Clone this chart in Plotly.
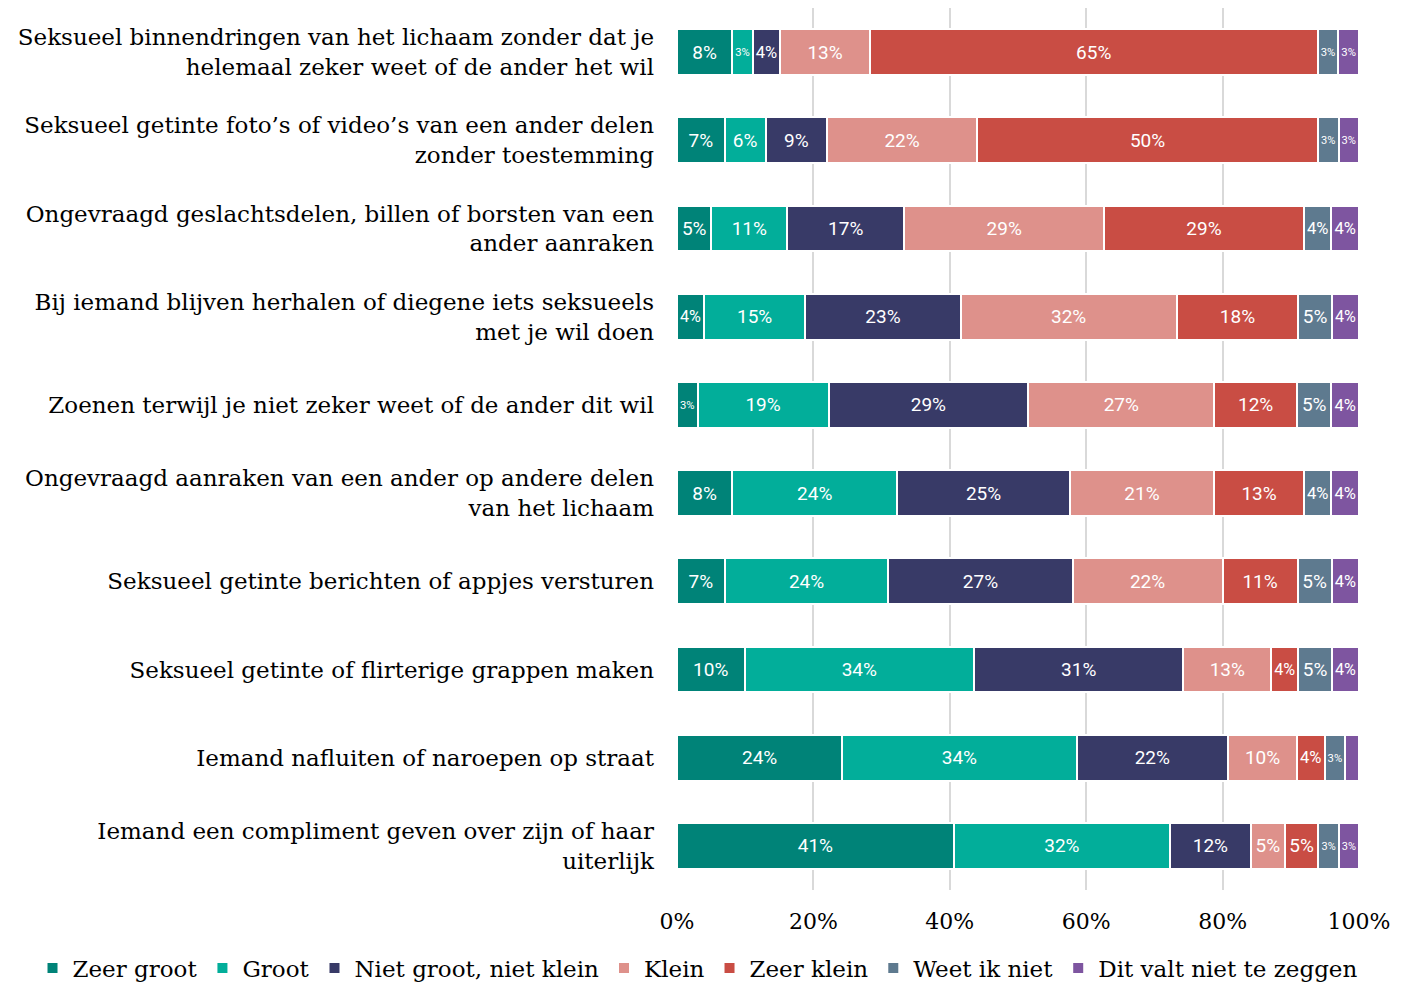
import plotly.graph_objects as go

statements = [
    "Seksueel binnendringen van het lichaam zonder dat je<br>helemaal zeker weet of de ander het wil",
    "Seksueel getinte foto’s of video’s van een ander delen<br>zonder toestemming",
    "Ongevraagd geslachtsdelen, billen of borsten van een<br>ander aanraken",
    "Bij iemand blijven herhalen of diegene iets seksueels<br>met je wil doen",
    "Zoenen terwijl je niet zeker weet of de ander dit wil",
    "Ongevraagd aanraken van een ander op andere delen<br>van het lichaam",
    "Seksueel getinte berichten of appjes versturen",
    "Seksueel getinte of flirterige grappen maken",
    "Iemand nafluiten of naroepen op straat",
    "Iemand een compliment geven over zijn of haar<br>uiterlijk",
]

zeer_groot = [8, 7, 5, 4, 3, 8, 7, 10, 24, 41]
groot = [3, 6, 11, 15, 19, 24, 24, 34, 34, 32]
niet_groot_niet_klein = [4, 9, 17, 23, 29, 25, 27, 31, 22, 12]
klein = [13, 22, 29, 32, 27, 21, 22, 13, 10, 5]
zeer_klein = [65, 50, 29, 18, 12, 13, 11, 4, 4, 5]
weet_ik_niet = [3, 3, 4, 5, 5, 4, 5, 5, 3, 3]
valt_niet_te_zeggen = [3, 3, 4, 4, 4, 4, 4, 4, 2, 3]

x_ticks = [0, 20, 40, 60, 80, 100]

series = [
    ("Zeer groot", zeer_groot, "#008378"),
    ("Groot", groot, "#02AE9A"),
    ("Niet groot, niet klein", niet_groot_niet_klein, "#383A67"),
    ("Klein", klein, "#DE918B"),
    ("Zeer klein", zeer_klein, "#C94D44"),
    ("Weet ik niet", weet_ik_niet, "#5E7A8F"),
    ("Dit valt niet te zeggen", valt_niet_te_zeggen, "#7E55A0"),
]

fig = go.Figure()
for name, vals, color in series:
    fig.add_trace(go.Bar(
        y=statements, x=vals, name=name, orientation="h",
        marker=dict(color=color, line=dict(color="white", width=2)),
        text=[f"{v}%" if v >= 3 else "" for v in vals],
        textposition="inside", insidetextanchor="middle",
        constraintext="inside", textangle=0,
        textfont=dict(family="Roboto", size=19, color="white"),
    ))

# page body has an 8px margin, so the figure is 8px smaller than the window
fig.update_layout(
    barmode="stack", barnorm="percent", bargap=0.48,
    width=1413, height=980,
    margin=dict(l=669, r=62, t=0, b=98, autoexpand=False),
    plot_bgcolor="white", paper_bgcolor="white",
    font=dict(family="DejaVu Serif", size=22, color="black"),
    legend=dict(orientation="h", x=-0.945, xanchor="left",
                y=-0.064, yanchor="top",
                font=dict(size=23), traceorder="normal", itemwidth=30),
    showlegend=True,
)
fig.update_xaxes(range=[0, 100], tickvals=x_ticks, ticktext=[f"{t}%" for t in x_ticks],
                 showgrid=True, gridcolor="#d9d9d9", gridwidth=2, zeroline=False,
                 tickfont=dict(size=22), ticklabelstandoff=16, automargin=False)
fig.update_yaxes(autorange="reversed", tickfont=dict(size=23), ticklabelstandoff=22,
                 showgrid=False, automargin=False)

fig.write_html("out.html")
